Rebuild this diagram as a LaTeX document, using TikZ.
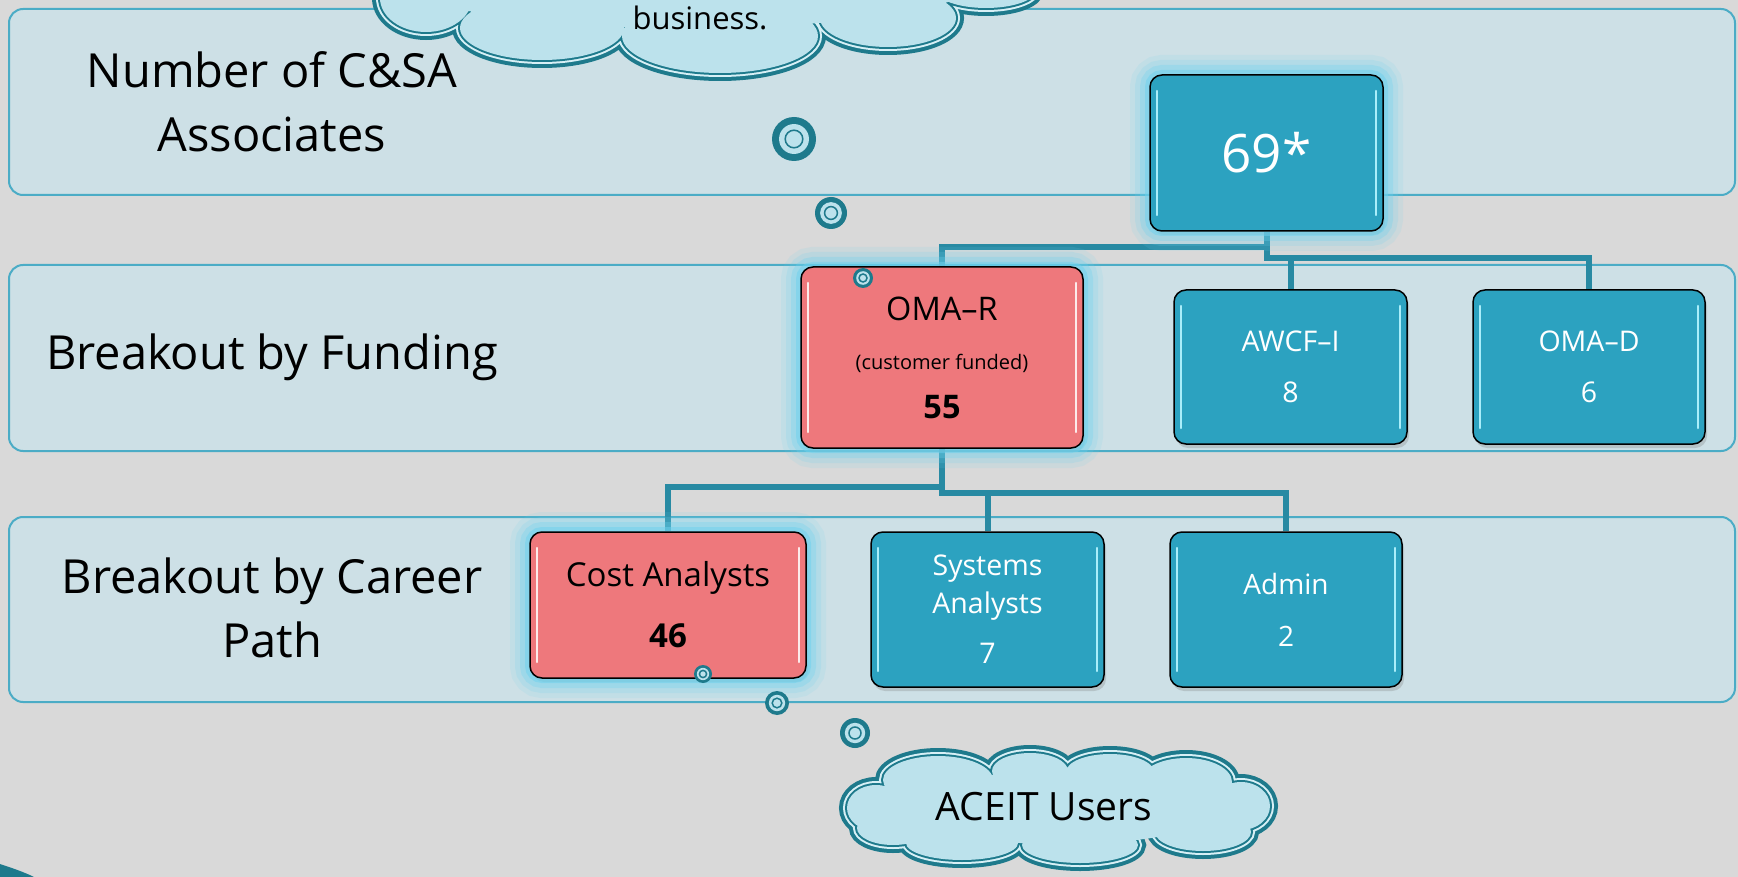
\documentclass[tikz,border=0pt]{standalone}
\usepackage{fontspec}
\setmainfont{Open Sans}
\usetikzlibrary{shadows,calc}
\definecolor{bgc}{RGB}{217,217,217}
\definecolor{bandf}{RGB}{205,224,230}
\definecolor{bandd}{RGB}{75,172,198}
\definecolor{boxc}{RGB}{44,162,192}
\definecolor{pinkc}{RGB}{238,120,124}
\definecolor{connc}{RGB}{40,138,163}
\definecolor{cloudb}{RGB}{30,122,140}
\definecolor{cloudf}{RGB}{188,226,236}
\definecolor{cloudl}{RGB}{215,240,246}
\definecolor{glowc}{RGB}{110,210,238}
\definecolor{hlc}{RGB}{170,238,250}
\pgfdeclarelayer{back}
\pgfdeclarelayer{wires}
\pgfsetlayers{back,wires,main}
\begin{document}
\begin{tikzpicture}[x=1pt,y=-1pt,
  band/.style={draw=bandd, line width=2pt, fill=bandf, rounded corners=14pt, minimum width=1726pt, inner sep=0pt},
  lab/.style={font=\fontsize{47}{64}\selectfont, align=center, text=black},
  boxsty/.style={draw=black, line width=1.5pt, fill=boxc, rounded corners=12pt, inner sep=0pt, text=white, align=center,
     drop shadow={shadow xshift=2pt, shadow yshift=-4pt, opacity=0.3},
     path picture={
       \draw[#1, line width=2.5pt, line cap=round] ([xshift=7pt,yshift=-16pt]path picture bounding box.north west) -- ([xshift=7pt,yshift=16pt]path picture bounding box.south west);
       \draw[#1, line width=2.5pt, line cap=round] ([xshift=-7pt,yshift=-16pt]path picture bounding box.north east) -- ([xshift=-7pt,yshift=16pt]path picture bounding box.south east);}},
  boxsty/.default=hlc,
  pinkbox/.style={boxsty=white!85!pinkc, fill=pinkc, text=black},
  glow/.style={preaction={draw=glowc, line width=40pt, draw opacity=0.12},
               preaction={draw=glowc, line width=30pt, draw opacity=0.18},
               preaction={draw=glowc, line width=20pt, draw opacity=0.3},
               preaction={draw=glowc, line width=10pt, draw opacity=0.5}},
  conn/.style={draw=connc, line width=6pt},
  bubble/.style={circle, fill=cloudb, minimum size=#1pt, inner sep=0pt,
     path picture={\fill[cloudf] (path picture bounding box.center) circle[radius=0.34*#1pt];
                   \draw[cloudb, line width=1.5pt, fill=cloudf] (path picture bounding box.center) circle[radius=0.2*#1pt];}}
]
\clip (0,0) rectangle (1738,877);
\begin{pgfonlayer}{back}
\fill[bgc] (0,0) rectangle (1738,877);
% bands
\node[band, minimum height=186pt] (band1) at (872,102) {};
\node[band, minimum height=186pt] (band2) at (872,358) {};
\node[band, minimum height=185pt] (band3) at (872,609.5) {};
\end{pgfonlayer}

\node[lab] (l1) at (272,102) {Number of C\&SA\\Associates};
\node[lab] (l2) at (272,357) {Breakout by Funding};
\node[lab] (l3) at (272,608) {Breakout by Career\\Path};

% boxes
\node[boxsty, glow, minimum width=233pt, minimum height=156pt, font=\fontsize{53}{60}\selectfont] (top) at (1266.5,153) {69*};
\node[pinkbox, glow, minimum width=282pt, minimum height=181pt, font=\fontsize{32.5}{49}\selectfont] (omar) at (942,357.5)
  {OMA–R\\{\fontsize{20}{49}\selectfont (customer funded)}\\\textbf{55}};
\node[boxsty, minimum width=233pt, minimum height=154pt, font=\fontsize{28.5}{51}\selectfont] (awcf) at (1290.5,367) {AWCF–I\\8};
\node[boxsty, minimum width=232pt, minimum height=154pt, font=\fontsize{28.5}{51}\selectfont] (omad) at (1589,367) {OMA–D\\6};
\node[pinkbox, glow, minimum width=276pt, minimum height=146pt, font=\fontsize{33}{61}\selectfont] (cost) at (668,605)
  {Cost Analysts\\\textbf{46}};
\node[boxsty, minimum width=233pt, minimum height=155pt, font=\fontsize{28.5}{38}\selectfont] (sys) at (987.5,609.5)
  {Systems\\Analysts\\[12pt]7};
\node[boxsty, minimum width=232pt, minimum height=155pt, font=\fontsize{28}{52}\selectfont] (admin) at (1286,609.5)
  {Admin\\2};

% connectors
\coordinate (j1) at ($(top.south)+(0,26)$);
\coordinate (j2) at ($(omar.south)+(0,44)$);
\begin{pgfonlayer}{wires}
\draw[conn] (top.south) -- ++(0,15) -| (omar.north);
\draw[conn] (top.south) -- (j1) -| (omad.north);
\draw[conn] (awcf.north) |- (j1);
\draw[conn] (omar.south) -- ++(0,38) -| (cost.north);
\draw[conn] (omar.south) -- (j2) -| (admin.north);
\draw[conn] (sys.north) |- (j2);
\end{pgfonlayer}

% thought bubbles
\node[bubble=44] (c1) at (794,139) {};
\node[bubble=32] (c2) at (831,213) {};
\node[bubble=20] (c3) at (863,278) {};
\node[bubble=18] (c4) at (703,674) {};
\node[bubble=24] (c5) at (777,703) {};
\node[bubble=30] (c6) at (855,733) {};

% top cloud
\def\topcloud{
  (426,-2) ellipse[x radius=46, y radius=34]
  (542,28) ellipse[x radius=82, y radius=32]
  (720,36) ellipse[x radius=98, y radius=37]
  (888,18) ellipse[x radius=68, y radius=29]
  (986,-10) ellipse[x radius=50, y radius=18]}
\draw[cloudb, line width=16pt] \topcloud;
\draw[cloudl, line width=8pt] \topcloud;
\draw[cloudb, line width=4pt] \topcloud;
\fill[cloudf] \topcloud (690,-20) ellipse[x radius=290, y radius=48];
\node[font=\fontsize{31}{34}\selectfont] (biz) at (700,18) {business.};

% bottom cloud
\def\botcloud{
  (876,808) ellipse[x radius=29, y radius=23]
  (938,780) ellipse[x radius=55, y radius=24]
  (1030,771) ellipse[x radius=38, y radius=18]
  (1110,772) ellipse[x radius=44, y radius=18]
  (1186,782) ellipse[x radius=46, y radius=24]
  (1241,806) ellipse[x radius=29, y radius=24]
  (1203,832) ellipse[x radius=48, y radius=19]
  (1080,845) ellipse[x radius=58, y radius=18]
  (962,843) ellipse[x radius=56, y radius=17]
  (893,828) ellipse[x radius=36, y radius=17]}
\draw[cloudb, line width=16pt] \botcloud;
\draw[cloudl, line width=8pt] \botcloud;
\draw[cloudb, line width=4pt] \botcloud;
\fill[cloudf] \botcloud (1060,808) ellipse[x radius=165, y radius=36];
\node[font=\fontsize{39}{42}\selectfont] (aceit) at (1044,807) {ACEIT Users};

% corner blob
\fill[cloudb] (0,864) .. controls (12,868) and (24,872) .. (34,877) -- (0,877) -- cycle;
\end{tikzpicture}
\end{document}
